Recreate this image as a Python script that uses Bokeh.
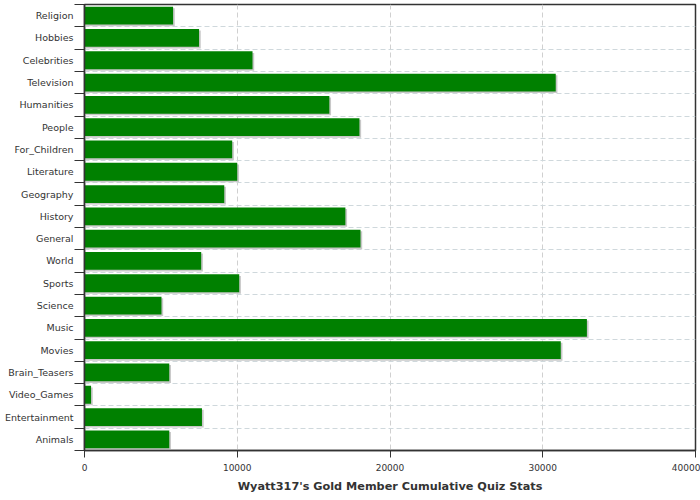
from bokeh.plotting import figure
from bokeh.models import Range1d, FixedTicker, ColumnDataSource
from bokeh.transform import dodge
from bokeh.embed import file_html
from bokeh.resources import INLINE

categories = ["Religion", "Hobbies", "Celebrities", "Television", "Humanities", "People",
              "For_Children", "Literature", "Geography", "History", "General", "World",
              "Sports", "Science", "Music", "Movies", "Brain_Teasers", "Video_Games",
              "Entertainment", "Animals"]
values = [5800, 7500, 11000, 30850, 16030, 18000, 9670, 10000, 9150, 17080, 18070, 7640,
          10130, 5040, 32890, 31180, 5550, 430, 7690, 5550]
x_ticks = [0, 10000, 20000, 30000, 40000]
title = "Wyatt317's Gold Member Cumulative Quiz Stats"

n = len(categories)
idx = list(range(n))
centers = idx
bounds = [i - 0.5 for i in range(n + 1)]

src = ColumnDataSource(dict(y=idx, value=values, name=categories))

p = figure(width=700, height=500, output_backend="svg", toolbar_location=None,
           x_range=Range1d(0, 40000), y_range=Range1d(n - 0.5, -0.5),
           min_border_left=84, min_border_right=5, min_border_top=4, min_border_bottom=50)
p.background_fill_color = "white"
p.border_fill_color = "white"
p.outline_line_color = "#333333"
p.outline_line_width = 1.5

# shadow
p.hbar(y=dodge("y", 0.07), left=0, right=dodge("value", 110), height=0.8, source=src,
       fill_color="#c8c8c8", line_color=None)
p.hbar(y="y", left=0, right="value", height=0.8, source=src,
       fill_color="#008000", line_color=None)

# x axis
xa = p.xaxis[0]
xa.ticker = FixedTicker(ticks=x_ticks)
xa.axis_label = title
xa.axis_label_text_font = "DejaVu Sans"
xa.axis_label_text_font_style = "bold"
xa.axis_label_text_font_size = "11.25px"
xa.axis_label_text_color = "#333333"
xa.axis_label_standoff = 6
xa.major_label_text_font = "DejaVu Sans"
xa.major_label_text_font_size = "9px"
xa.major_label_text_color = "#333333"
xa.major_label_standoff = 6
xa.major_tick_out = 7
xa.major_tick_in = 0
xa.minor_tick_line_color = None
xa.axis_line_color = "#333333"
xa.axis_line_width = 1.5
xa.major_tick_line_color = "#333333"
xa.formatter.use_scientific = False

# y axis
ya = p.yaxis[0]
ya.ticker = FixedTicker(ticks=centers, minor_ticks=bounds)
ya.major_label_overrides = {i: c for i, c in enumerate(categories)}
ya.major_label_text_font = "DejaVu Sans"
ya.major_label_text_font_size = "9.5px"
ya.major_label_text_color = "#333333"
ya.major_tick_line_color = None
ya.major_tick_out = 0
ya.major_tick_in = 0
ya.major_label_standoff = 1
ya.minor_tick_out = 10
ya.minor_tick_in = 0
ya.minor_tick_line_color = "#333333"
ya.minor_tick_line_width = 1.2
ya.axis_line_color = "#333333"
ya.axis_line_width = 1.5

# grids
p.ygrid.ticker = FixedTicker(ticks=bounds)
p.ygrid.grid_line_color = "#cfd8dc"
p.ygrid.grid_line_dash = "5 3"
p.xgrid.ticker = FixedTicker(ticks=x_ticks)
p.xgrid.grid_line_color = "#d0d0d0"
p.xgrid.grid_line_dash = "5 3"

open("out.html", "w").write(file_html(p, INLINE))
